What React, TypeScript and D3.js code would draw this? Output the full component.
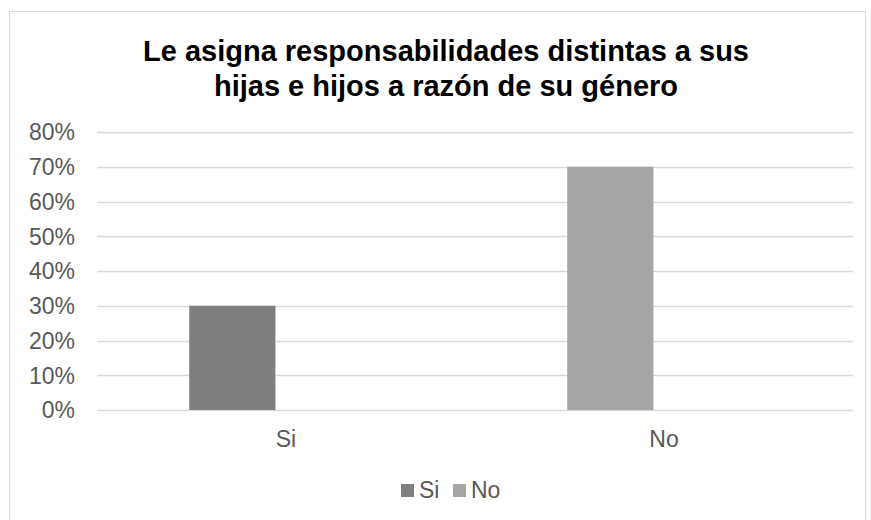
import * as d3 from "d3";
import { useEffect, useRef } from "react";

const width = 871;
const height = 520;
const marginTop = 132;
const marginRight = 18;
const marginBottom = 110;
const marginLeft = 97;

const categories = ["Si", "No"];
const values = [0.3, 0.7];
const colors = ["#7f7f7f", "#a5a5a5"];
const yTicks = [0, 0.1, 0.2, 0.3, 0.4, 0.5, 0.6, 0.7, 0.8];
const titleLines = [
  "Le asigna responsabilidades distintas a sus",
  "hijas e hijos a razón de su género",
];

const font = "Arial, 'Liberation Sans', sans-serif";

const App = () => {
  const ref = useRef<HTMLDivElement>(null);

  useEffect(() => {
    const x = d3
      .scaleBand()
      .domain(categories)
      .range([marginLeft, width - marginRight]);

    const y = d3
      .scaleLinear()
      .domain([0, 0.8])
      .range([height - marginBottom, marginTop]);

    const svg = d3
      .create("svg")
      .attr("width", width)
      .attr("height", height)
      .style("display", "block")
      .style("font-family", font);

    svg.append("rect")
      .attr("width", width)
      .attr("height", height)
      .attr("fill", "#fff");

    // outer frame
    svg.append("rect")
      .attr("x", 9.5)
      .attr("y", 11.5)
      .attr("width", 856)
      .attr("height", 520)
      .attr("fill", "none")
      .attr("stroke", "#d9d9d9");

    // title
    svg.append("g")
      .selectAll("text")
      .data(titleLines)
      .join("text")
      .attr("x", 446)
      .attr("y", (d, i) => 61 + i * 35)
      .attr("text-anchor", "middle")
      .attr("font-size", 29)
      .attr("font-weight", "bold")
      .attr("fill", "#000")
      .text(d => d);

    // gridlines
    svg.append("g")
      .selectAll("line")
      .data(yTicks)
      .join("line")
      .attr("x1", marginLeft)
      .attr("x2", width - marginRight)
      .attr("y1", d => Math.round(y(d)) + 0.5)
      .attr("y2", d => Math.round(y(d)) + 0.5)
      .attr("stroke", "#d9d9d9")
      .attr("stroke-width", 1.5);

    // y tick labels
    svg.append("g")
      .selectAll("text")
      .data(yTicks)
      .join("text")
      .attr("x", 75)
      .attr("y", d => y(d))
      .attr("dy", "0.36em")
      .attr("text-anchor", "end")
      .attr("font-size", 23)
      .attr("fill", "#595959")
      .text(d => d3.format(".0%")(d));

    // bars
    const bw = x.bandwidth();
    svg.append("g")
      .selectAll("rect")
      .data(categories)
      .join("rect")
      .attr("x", d => x(d)! + bw * 0.244)
      .attr("y", (d, i) => y(values[i]))
      .attr("width", bw * 0.228)
      .attr("height", (d, i) => y(0) - y(values[i]))
      .attr("fill", (d, i) => colors[i]);

    // category labels
    svg.append("g")
      .selectAll("text")
      .data(categories)
      .join("text")
      .attr("x", d => x(d)! + bw / 2)
      .attr("y", 447)
      .attr("text-anchor", "middle")
      .attr("font-size", 23)
      .attr("fill", "#595959")
      .text(d => d);

    // legend
    const legend = svg.append("g").attr("transform", "translate(401, 0)");
    const offsets = [0, 52];
    categories.forEach((c, i) => {
      legend.append("rect")
        .attr("x", offsets[i])
        .attr("y", 484)
        .attr("width", 13)
        .attr("height", 13)
        .attr("fill", colors[i]);
      legend.append("text")
        .attr("x", offsets[i] + 18)
        .attr("y", 498)
        .attr("font-size", 23)
        .attr("fill", "#595959")
        .text(c);
    });

    if (ref.current && ref.current.children.length === 0) {
      ref.current.append(svg.node()!);
    }
  }, []);

  return <div ref={ref} style={{ position: "absolute", left: 0, top: 0 }} />;
};

export default App;
